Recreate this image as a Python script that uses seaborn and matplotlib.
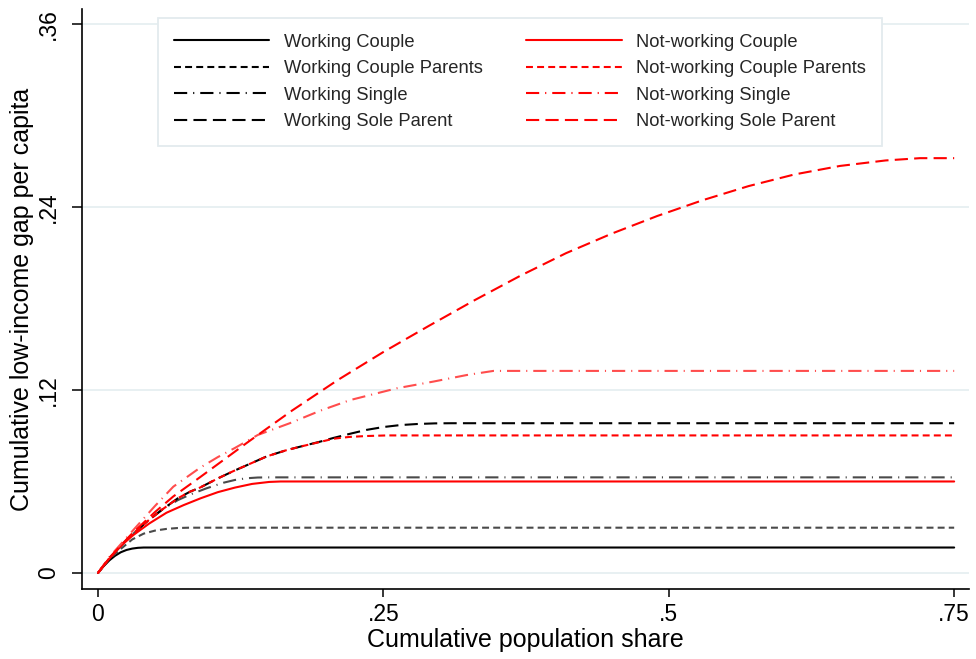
import matplotlib
matplotlib.use("Agg")
import matplotlib.pyplot as plt
from matplotlib.lines import Line2D
import pandas as pd
import seaborn as sns

# ---- data: cumulative low-income gap (TIP curves) by household type ----
groups = [
    "Working Couple", "Working Couple Parents", "Working Single", "Working Sole Parent",
    "Not-working Couple", "Not-working Couple Parents", "Not-working Single",
    "Not-working Sole Parent",
]

wc_x = [0, .005, .010, .015, .020, .025, .030, .035, .040, .045, .75]
wc_y = [0, .0045, .0083, .0113, .0136, .0151, .0160, .0165, .0167, .0167, .0167]

wcp_x = [0, .005, .010, .020, .030, .040, .050, .060, .070, .080, .75]
wcp_y = [0, .0050, .0094, .0158, .0220, .0258, .0278, .0289, .0295, .0297, .0297]

ws_x = [0, .010, .025, .040, .057, .070, .081, .095, .110, .120, .130, .140, .150, .75]
ws_y = [0, .0098, .0216, .0320, .0420, .0478, .0515, .0555, .0592, .0610, .0621, .0626, .0627, .0627]

wsp_x = [0, .010, .028, .045, .057, .070, .0806, .0894, .105, .1186, .135, .148, .165, .177,
         .195, .206, .222, .235, .250, .265, .280, .295, .310, .75]
wsp_y = [0, .0098, .0240, .0350, .0420, .0490, .0533, .0560, .0620, .0668, .0722, .0765, .0805, .0828,
         .0862, .0885, .0915, .0938, .0957, .0970, .0977, .0981, .0982, .0982]

nwc_x = [0, .010, .020, .031, .045, .060, .075, .090, .105, .120, .135, .150, .160, .75]
nwc_y = [0, .0095, .0178, .0249, .0325, .0395, .0445, .0490, .0530, .0560, .0584, .0597, .0600, .0600]

nwcp_x = [0, .010, .028, .045, .057, .070, .0806, .0894, .105, .1186, .135, .148, .165, .177,
          .195, .206, .220, .235, .253, .75]
nwcp_y = [0, .0098, .0240, .0350, .0420, .0490, .0533, .0560, .0620, .0668, .0722, .0765, .0805, .0828,
          .0860, .0880, .0892, .0898, .0902, .0902]

nws_x = [0, .010, .031, .050, .066, .0894, .105, .120, .140, .168, .195, .221, .2617, .2938,
         .323, .3464, .75]
nws_y = [0, .0105, .0282, .0440, .0566, .0690, .0760, .0820, .0905, .0982, .1065, .1134, .1211, .1255,
         .1298, .1325, .1325]

nwsp_x = [0, .010, .030, .050, .066, .0894, .130, .170, .210, .250, .290, .330, .370, .410,
          .450, .490, .530, .570, .610, .650, .690, .720, .75]
nwsp_y = [0, .0100, .0260, .0400, .0502, .0628, .0851, .1065, .1265, .1449, .1621, .1789, .1949, .2097,
          .2225, .2341, .2445, .2537, .2613, .2669, .2705, .2720, .2720]

x_ticks = [0, .25, .5, .75]
x_tick_labels = ["0", ".25", ".5", ".75"]
y_ticks = [0, .12, .24, .36]
y_tick_labels = ["0", ".12", ".24", ".36"]

series = {
    "Working Couple": (wc_x, wc_y),
    "Working Couple Parents": (wcp_x, wcp_y),
    "Working Single": (ws_x, ws_y),
    "Working Sole Parent": (wsp_x, wsp_y),
    "Not-working Couple": (nwc_x, nwc_y),
    "Not-working Couple Parents": (nwcp_x, nwcp_y),
    "Not-working Single": (nws_x, nws_y),
    "Not-working Sole Parent": (nwsp_x, nwsp_y),
}
df = pd.concat(
    [pd.DataFrame({"share": xs, "gap": ys, "group": g}) for g, (xs, ys) in series.items()],
    ignore_index=True,
)

# ---- styling ----
BLACK, GREY, RED, LIGHT_RED = "#000000", "#4a4a4a", "#ff0000", "#ff4d4d"
palette = {
    "Working Couple": BLACK, "Working Couple Parents": GREY,
    "Working Single": GREY, "Working Sole Parent": BLACK,
    "Not-working Couple": RED, "Not-working Couple Parents": RED,
    "Not-working Single": LIGHT_RED, "Not-working Sole Parent": RED,
}
legend_colors = {g: (BLACK if g.startswith("Working") else RED) for g in groups}

SOLID = ""
DASH = (5.0, 3.0)
DASHDOT = (9.5, 4.3, 0.8, 4.3)
LONGDASH = (9.5, 4.5)
dashes = {
    "Working Couple": SOLID, "Working Couple Parents": DASH,
    "Working Single": DASHDOT, "Working Sole Parent": LONGDASH,
    "Not-working Couple": SOLID, "Not-working Couple Parents": DASH,
    "Not-working Single": DASHDOT, "Not-working Sole Parent": LONGDASH,
}

sns.set_theme(style="white")
plt.rcParams["font.family"] = ["Liberation Sans", "DejaVu Sans"]
plt.rcParams["lines.scale_dashes"] = False

fig = plt.figure(figsize=(9.76, 6.59), dpi=100)
ax = fig.add_axes([82 / 976, 70 / 659, 887 / 976, 580 / 659])

sns.lineplot(
    data=df, x="share", y="gap", hue="group", style="group",
    hue_order=groups, style_order=groups, palette=palette, dashes=dashes,
    estimator=None, sort=False, linewidth=1.5, legend=False, ax=ax,
)

ax.set_xlim(-0.014, 0.763)
ax.set_ylim(-0.0105, 0.3698)

ax.set_xticks(x_ticks)
ax.set_xticklabels(x_tick_labels)
ax.set_yticks(y_ticks)
ax.set_yticklabels(y_tick_labels, rotation=90, va="center")

ax.yaxis.grid(True, color="#e6eff1", linewidth=1.3)
ax.xaxis.grid(False)
ax.set_axisbelow(True)

for side in ("top", "right"):
    ax.spines[side].set_visible(False)
for side in ("left", "bottom"):
    ax.spines[side].set_color("black")
    ax.spines[side].set_linewidth(1.2)

ax.tick_params(axis="both", which="major", bottom=True, left=True, direction="out",
               color="black", width=1.1, labelsize=16.5, labelcolor="black")
ax.tick_params(axis="x", length=6, pad=4)
ax.tick_params(axis="y", length=7, pad=9)

ax.set_xlabel("Cumulative population share", fontsize=18, color="black")
ax.set_ylabel("Cumulative low-income gap per capita", fontsize=18, color="black")
ax.xaxis.set_label_coords(0.5, -0.068)
ax.yaxis.set_label_coords(-0.054, 0.5)

handles = []
for g in groups:
    d = dashes[g]
    if d == SOLID:
        h = Line2D([], [], color=legend_colors[g], linewidth=1.5, linestyle="-")
    else:
        h = Line2D([], [], color=legend_colors[g], linewidth=1.5, dashes=d)
    handles.append(h)

leg = ax.legend(
    handles, groups, ncol=2, loc="upper left",
    bbox_to_anchor=(158 / 976, 1 - 18 / 659), bbox_transform=fig.transFigure,
    fontsize=13.2, frameon=True, fancybox=False, framealpha=1,
    edgecolor="#e3ebee", borderpad=0.85, labelspacing=0.52,
    handlelength=5.2, handletextpad=0.8, columnspacing=2.4, borderaxespad=0,
)
leg.get_frame().set_linewidth(1.3)

fig.savefig("out.png", dpi=100)
